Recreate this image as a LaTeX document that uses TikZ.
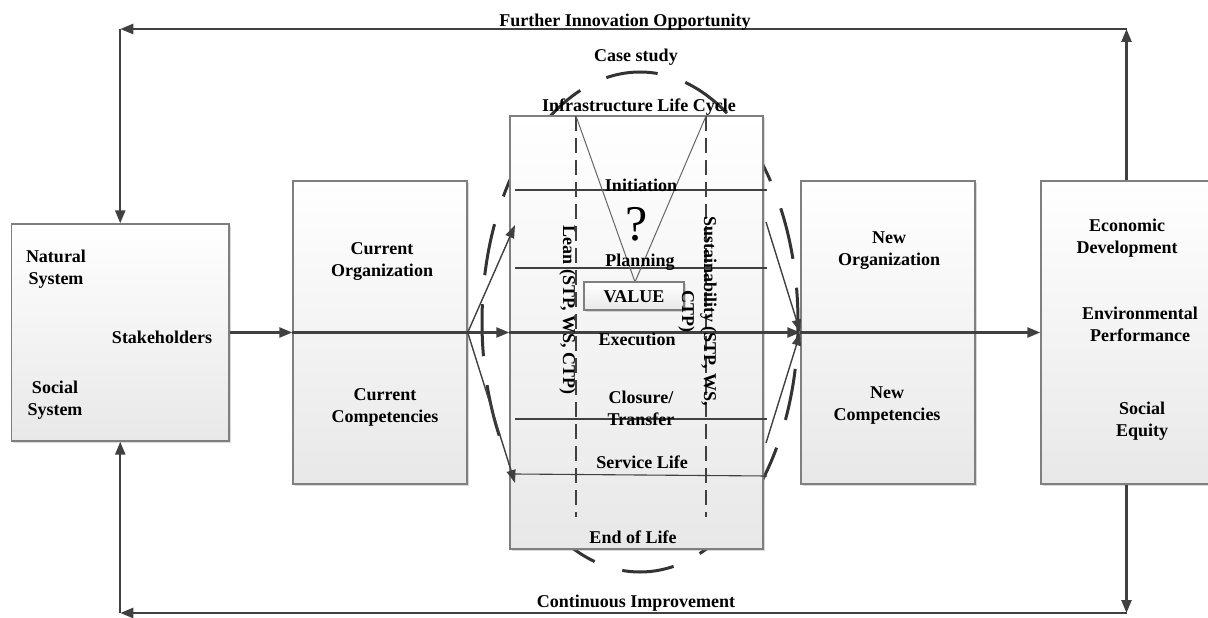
\documentclass[tikz,border=0pt]{standalone}
\usepackage{fontspec}
\setmainfont{Liberation Serif}
\usetikzlibrary{arrows.meta,shadows}
\definecolor{ink}{HTML}{404040}
\definecolor{frame}{HTML}{7F7F7F}
\definecolor{ring}{HTML}{333333}
\begin{document}
\begin{tikzpicture}[x=1pt,y=-1pt,
  box/.style={draw=frame, line width=1.4pt, top color=white, bottom color=black!9,
    drop shadow={shadow xshift=1.5pt,shadow yshift=-1.5pt,opacity=.3}, inner sep=0pt},
  lbl/.style={font=\bfseries\fontsize{18}{22}\selectfont, align=center,
    text height=12pt, text depth=0pt, inner sep=0pt, text=black},
  two/.style={text height=34pt, text depth=0pt},
  flow/.style={draw=ink, line width=2.4pt, -{Triangle[length=13pt,width=10pt]}},
  flowline/.style={draw=ink, line width=2.4pt},
  fan/.style={draw=ink, line width=1.4pt, -{Triangle[length=13pt,width=9pt]}},
  stage/.style={draw=ink, line width=1.1pt},
  guide/.style={draw=ink, line width=2pt, dash pattern=on 15pt off 7pt},
  vee/.style={draw=black!60, line width=1pt},
  casering/.style={draw=ring, line width=3pt, dash pattern=on 52pt off 29.13pt, dash phase=34.13pt}
]
\useasboundingbox (0,0) rectangle (1208,618);

% case study ring, partly hidden behind the life-cycle box
\draw[casering] (640,322) ellipse [x radius=158, y radius=250];

% boxes
\node[box, minimum width=217.5pt, minimum height=217pt] (sys) at (120.25,332.5) {};
\node[box, minimum width=174pt, minimum height=303pt] (cur) at (380,332.5) {};
\node[box, minimum width=253pt, minimum height=433pt] (mid) at (636.5,332.5) {};
\node[box, minimum width=174pt, minimum height=303pt] (new) at (888,332.5) {};
\node[box, minimum width=171pt, minimum height=303pt] (out) at (1126.5,332.5) {};

% feedback loops
\coordinate (topy) at (0,29);
\coordinate (boty) at (0,613);
\coordinate (tr) at (out.north |- topy);
\coordinate (tl) at (sys.north |- topy);
\coordinate (br) at (out.south |- boty);
\coordinate (bl) at (sys.south |- boty);
\draw[flow] (out.north) -- (tr);
\draw[flow] (tr) -- (tl);
\draw[flow] (tl) -- (sys.north);
\draw[flow] (out.south) -- (br);
\draw[flow] (br) -- (bl);
\draw[flow] (bl) -- (sys.south);

% life-cycle stages
\draw[stage] (515,190) -- (767,190);
\draw[stage] (515,268) -- (767,268);
\draw[stage] (515,419) -- (767,419);
\draw[stage] (515,474) -- (767,476);
\draw[guide] (576,116) -- (576,517);
\draw[guide] (706,116) -- (706,517);
\draw[vee] (576,116) -- (635,282) -- (706,116);
\node[box, minimum width=100pt, minimum height=28pt] (val) at (634,296) {};
\node[lbl] (valt) at (634,296) {VALUE};

% main flow
\draw[flow] (sys.east) -- (cur.west);
\draw[flowline] (cur.west) -- (cur.east);
\draw[flow] (cur.east) -- (mid.west);
\draw[flow] (mid.west) -- (new.west);
\draw[flowline] (new.west) -- (new.east);
\draw[flow] (new.east) -- (out.west);

% spread into and out of the life cycle
\coordinate (fa) at (515,225);
\coordinate (fb) at (515,483);
\coordinate (fc) at (766,222);
\coordinate (fd) at (766,443);
\draw[fan] (cur.east) -- (fa);
\draw[fan] (cur.east) -- (fb);
\draw[fan] (fc) -- (new.west);
\draw[fan] (fd) -- (new.west);

% texts
\node[lbl] (t1) at (625,21) {Further Innovation Opportunity};
\node[lbl] (t2) at (636,56) {Case study};
\node[lbl] (t3) at (639,105.5) {Infrastructure Life Cycle};
\node[lbl] (t4) at (636,601) {Continuous Improvement};

\node[lbl,two] (nat) at (56,267.5) {Natural\\System};
\node[lbl] (stk) at (162,337) {Stakeholders};
\node[lbl,two] (soc) at (55,398) {Social\\System};

\node[lbl,two] (corg) at (382,259) {Current\\Organization};
\node[lbl,two] (ccomp) at (385,405) {Current\\Competencies};

\node[lbl] (s1) at (641,185) {Initiation};
\node[font=\fontsize{50}{50}\selectfont, inner sep=0pt] (q) at (637,224.5) {?};
\node[lbl] (s2) at (640,260) {Planning};
\node[lbl] (s3) at (637,339) {Execution};
\node[lbl,two] (s4) at (641,408) {Closure/\\Transfer};
\node[lbl] (s5) at (642,462.5) {Service Life};
\node[lbl] (s6) at (633,537.5) {End of Life};

\node[lbl, rotate=-90] (lean) at (569,310) {Lean (STP, WS, CTP)};
\node[lbl, two, rotate=-90] (sust) at (699,311) {Sustainability (STP, WS,\\CTP)};

\node[lbl,two] (norg) at (889,248.5) {New\\Organization};
\node[lbl,two] (ncomp) at (887,403) {New\\Competencies};

\node[lbl,two] (eco) at (1127,236) {Economic\\Development};
\node[lbl,two] (env) at (1140,324) {Environmental\\Performance};
\node[lbl,two] (eq) at (1142,419) {Social\\Equity};
\end{tikzpicture}
\end{document}
